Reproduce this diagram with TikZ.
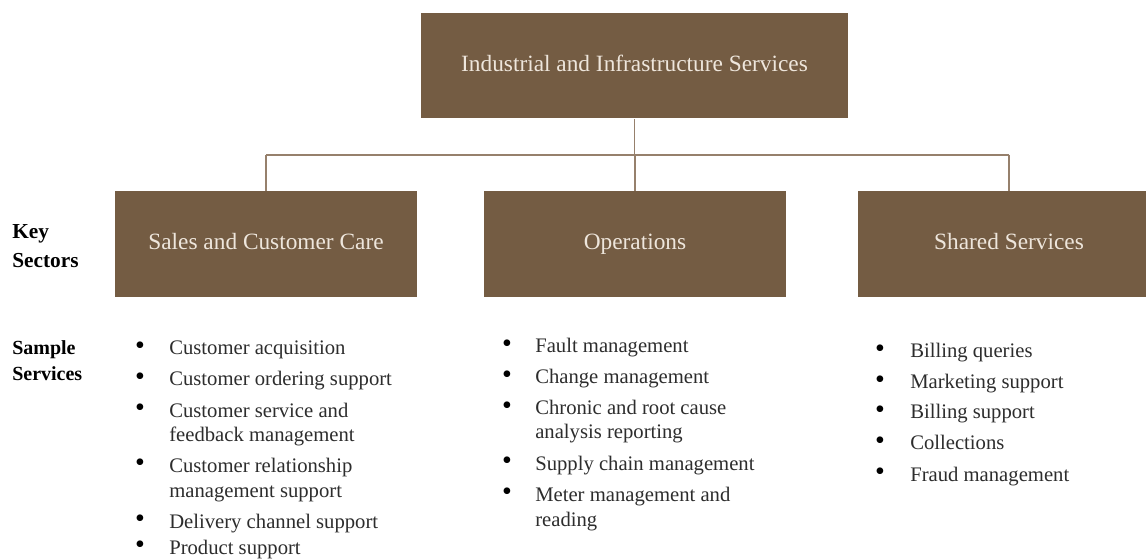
\documentclass[tikz,border=0pt]{standalone}
\usepackage{fontspec}
\setmainfont{Liberation Serif}
\definecolor{boxfill}{RGB}{116,92,67}
\definecolor{boxtext}{RGB}{238,230,220}
\definecolor{conn}{RGB}{150,128,108}
\definecolor{itemtext}{RGB}{45,45,45}
\tikzset{
  sector/.style={fill=boxfill, draw=none, text=boxtext, minimum width=226.5pt, minimum height=79.5pt,
    font=\fontsize{17.5}{21}\selectfont, inner sep=0pt, text height=12pt, text depth=4pt},
  connector/.style={draw=conn, line width=1.4pt},
  itm/.style={anchor=west, inner sep=0pt, text=itemtext, text height=11pt, text depth=3.5pt,
    font=\fontsize{15.5}{18.5}\selectfont},
  bul/.style={anchor=center, inner sep=0pt, text=black, text height=9.5pt, text depth=0pt,
    font=\fontsize{21}{24}\selectfont},
  rowlabel/.style={anchor=west, inner sep=0pt, align=left, text=black, font=\bfseries\fontsize{16}{21.75}\selectfont}
}
\begin{document}
\begin{tikzpicture}[x=0.75pt, y=-0.75pt]
\clip (0,0) rectangle (1146,559);
\fill[white] (0,0) rectangle (1146,559);

\node[sector, minimum width=320.25pt, minimum height=78.75pt] (top) at (634.5,66) {Industrial and Infrastructure Services};
\node[sector] (sales) at (266,244) {Sales and Customer Care};
\node[sector] (ops) at (635,244) {Operations};
\node[sector] (shared) at (1009,244) {Shared Services};

\coordinate (bus) at (634.5,155);
\draw[connector] (top.south) -- (bus);
\draw[connector] (bus -| sales.north) -- (bus -| shared.north);
\draw[connector] (bus -| sales.north) -- (sales.north);
\draw[connector] (bus -| ops.north) -- (ops.north);
\draw[connector] (bus -| shared.north) -- (shared.north);

\node[rowlabel] (keysec) at (12,246) {Key\\Sectors};
\node[rowlabel, font=\bfseries\fontsize{15}{20}\selectfont] (samserv) at (12,360.5) {Sample\\Services};

% Sales list
\node[bul] (sb1) at (140,348) {•};
\node[itm] (s1) at (169,350) {Customer acquisition};
\node[bul] (sb2) at (140,379) {•};
\node[itm] (s2) at (169,381) {Customer ordering support};
\node[bul] (sb3) at (140,410) {•};
\node[itm] (s3a) at (169,412) {Customer service and};
\node[itm] (s3b) at (169,436) {feedback management};
\node[bul] (sb4) at (140,465) {•};
\node[itm] (s4a) at (169,467) {Customer relationship};
\node[itm] (s4b) at (169,492) {management support};
\node[bul] (sb5) at (140,521) {•};
\node[itm] (s5) at (169,523) {Delivery channel support};
\node[bul] (sb6) at (140,547) {•};
\node[itm] (s6) at (169,549) {Product support};

% Operations list
\node[bul] (ob1) at (507,346) {•};
\node[itm] (o1) at (535,348) {Fault management};
\node[bul] (ob2) at (507,377) {•};
\node[itm] (o2) at (535,379) {Change management};
\node[bul] (ob3) at (507,408) {•};
\node[itm] (o3a) at (535,410) {Chronic and root cause};
\node[itm] (o3b) at (535,434) {analysis reporting};
\node[bul] (ob4) at (507,463) {•};
\node[itm] (o4) at (535,465) {Supply chain management};
\node[bul] (ob5) at (507,494) {•};
\node[itm] (o5a) at (535,496) {Meter management and};
\node[itm] (o5b) at (535,521) {reading};

% Shared list
\node[bul] (hb1) at (880,351) {•};
\node[itm] (h1) at (910,353) {Billing queries};
\node[bul] (hb2) at (880,382) {•};
\node[itm] (h2) at (910,384) {Marketing support};
\node[bul] (hb3) at (880,412) {•};
\node[itm] (h3) at (910,414) {Billing support};
\node[bul] (hb4) at (880,443) {•};
\node[itm] (h4) at (910,445) {Collections};
\node[bul] (hb5) at (880,474) {•};
\node[itm] (h5) at (910,476) {Fraud management};
\end{tikzpicture}
\end{document}
